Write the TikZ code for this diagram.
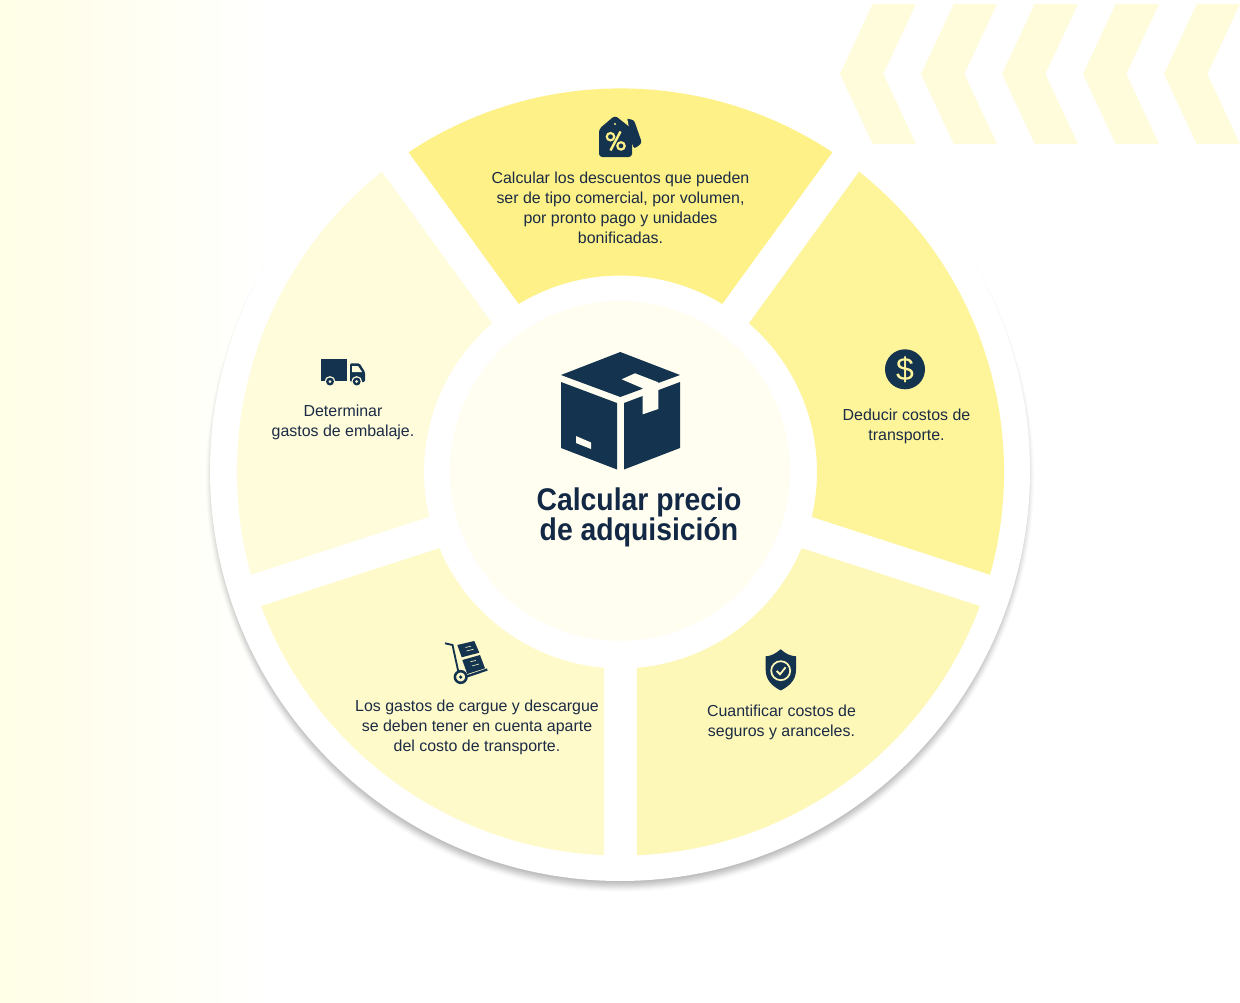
\documentclass[tikz,border=0pt]{standalone}
\usepackage{fontspec}
\setmainfont{Liberation Sans}
\newfontfamily\ttlfont[FakeStretch=0.905]{Liberation Sans Bold}
\usetikzlibrary{shadings}
\definecolor{ink}{HTML}{14334E}
\definecolor{txt}{HTML}{1B2B45}
\definecolor{ttl}{HTML}{122845}
\definecolor{segA}{HTML}{FEF187}
\definecolor{segB}{HTML}{FEF59B}
\definecolor{segC}{HTML}{FEF8B8}
\definecolor{segD}{HTML}{FFFACA}
\definecolor{segE}{HTML}{FFFCDC}
\definecolor{hub}{HTML}{FFFEF0}
\definecolor{chev}{HTML}{FFFCDC}
\definecolor{edge}{HTML}{FFFEE6}
\definecolor{shade}{HTML}{1F4660}
\tikzset{
  body/.style={text=txt,align=center,font=\fontsize{11.95}{15}\selectfont,inner sep=0pt},
  headline/.style={text=ttl,align=center,font=\ttlfont\fontsize{23.5}{22.5}\selectfont,inner sep=0pt},
  icon/.style={fill=ink,draw=none},
}
\newcommand{\sector}[3]{% mid angle, colour, name
  \fill[#2] (#1+33.54:383.6) arc[start angle=#1+33.54,end angle=#1-33.54,radius=383.6]
    -- (#1-31.2:196.5) arc[start angle=#1-31.2,end angle=#1+31.2,radius=196.5] -- cycle;}
\newcommand{\chevron}[1]{%
  \fill[chev,shift={(#1,0)}] (32.7,4) -- (76,4) -- (43.3,74) -- (76,144) -- (32.7,144) -- (0,74) -- cycle;}
\begin{document}
\begin{tikzpicture}[x=0.75pt,y=-0.75pt]
\useasboundingbox (0,0) rectangle (1240,1003);
\fill[white] (0,0) rectangle (1240,1003);
\shade[left color=edge,right color=white,draw=none] (0,0) rectangle (270,1003);
\foreach \cx in {840,921,1002,1083,1164}{\chevron{\cx}}
% soft shadow of the ring
\foreach \rr/\op in {414/.012,413/.016,412/.02,411/.025,410/.03,409/.03,408/.035,407/.035,406/.04,405/.04,404/.04,403/.04}{
  \fill[shade,opacity=\op] (620,478) circle[radius=\rr];}
\fill[white] (620,471) circle[radius=410];
\begin{scope}[shift={(620.5,472)},x=0.75pt,y=0.75pt]
  \sector{90}{segA}{}
  \sector{18}{segB}{}
  \sector{-54}{segC}{}
  \sector{-126}{segD}{}
  \sector{162}{segE}{}
\end{scope}
\fill[hub] (620,471) circle[radius=170];
% box icon
\fill[icon] (620.3,352) -- (680,375) -- (620.3,397) -- (561,375) -- cycle;
\fill[icon] (561,382) -- (617,403) -- (617,469.5) -- (561,448) -- cycle;
\fill[icon] (624,403) -- (680,382) -- (680,448) -- (624,469.5) -- cycle;
\fill[hub] (621.7,379.3) -- (635,373.3) -- (658.3,382.3) -- (658.3,409) -- (642.7,414.3) -- (642.7,388.3) -- cycle;
\fill[hub] (576,436) -- (591,442.5) -- (591,449) -- (576,443) -- cycle;
% tag icon
\fill[icon,rounded corners=2pt] (623,118) -- (634,120) -- (642,143) -- (634,149) -- cycle;
\fill[segA] (622,116) -- (627,117) -- (634,155) -- (632,156) -- cycle;
\fill[icon,rounded corners=2.4pt] (615,115.5) -- (632,129) -- (632,157) -- (599,157) -- (599,129) -- cycle;
\fill[segA] (615,124) circle[radius=1.1];
\draw[segA,line width=1.6pt] (610.5,136.7) circle[radius=3.7];
\draw[segA,line width=1.6pt] (621,145.9) circle[radius=3.7];
\draw[segA,line width=1.8pt] (620.5,131.5) -- (610.5,150.5);
% dollar icon
\fill[icon] (905,369.3) circle[radius=20];
\node[text=segB,font=\fontsize{24}{24}\selectfont,inner sep=0pt] (dollar) at (905,369.5) {\$};
% truck icon
\fill[icon] (321,358.5) rectangle (347,380.5);
\fill[icon,rounded corners=1pt] (350,363.3) -- (359.5,363.3) -- (365,372) -- (365,382) -- (350,382) -- cycle;
\fill[segE] (352,366) -- (358,366) -- (362,372) -- (352,372) -- cycle;
\foreach \wx in {330,356.7}{
  \fill[segE] (\wx,381.5) circle[radius=5.4];
  \fill[icon] (\wx,381.5) circle[radius=4];
  \fill[segE] (\wx,381.5) circle[radius=1.5];
}
% shield icon
\fill[icon] (780.7,649.3) .. controls (775,654) and (771,656) .. (765.7,656.3) -- (765.7,670) .. controls (765.7,680) and (772,686) .. (780.7,690.5) .. controls (789.5,686) and (796,680) .. (796,670) -- (796,656.3) .. controls (790.5,656) and (786,654) .. (780.7,649.3) -- cycle;
\draw[segC,line width=1.3pt] (780.7,670.7) circle[radius=9.5];
\draw[segC,line width=1.4pt] (776.7,671) -- (780,674.3) -- (785.6,667.3);
% hand truck icon
\draw[ink,line width=1.4pt] (445,643.3) -- (452.5,645) -- (458.3,671.5);
\draw[ink,line width=1.7pt] (466,676.7) -- (487.3,669.5);
\draw[ink,line width=1.9pt] (460.7,677) circle[radius=5.8];
\fill[icon] (460.7,677) circle[radius=1.8];
\fill[icon] (457.3,645) -- (474.3,641) -- (479.3,652.7) -- (461.7,657.3) -- cycle;
\fill[icon] (462.3,660) -- (480,655) -- (485,668.3) -- (467.3,674) -- cycle;
\draw[segD,line width=.45pt] (465.5,647.5) -- (471,646.2) (466.5,651) -- (473.5,649.2);
\draw[segD,line width=.45pt] (470.5,661.8) -- (476,660.4) (472,666) -- (479,664);
% texts
\node[headline] (title) at (639,517.5) {Calcular precio\\[0pt]de adquisición};
\node[body] (top) at (620.5,207.5) {Calcular los descuentos que pueden\\ser de tipo comercial, por volumen,\\por pronto pago y unidades\\bonificadas.};
\node[body] (right) at (906.5,426.5) {Deducir costos de\\transporte.};
\node[body] (lowerright) at (781.5,722.5) {Cuantificar costos de\\seguros y aranceles.};
\node[body] (lowerleft) at (477,727.5) {Los gastos de cargue y descargue\\se deben tener en cuenta aparte\\del costo de transporte.};
\node[body] (left) at (343,422.5) {Determinar\\gastos de embalaje.};
\end{tikzpicture}
\end{document}
